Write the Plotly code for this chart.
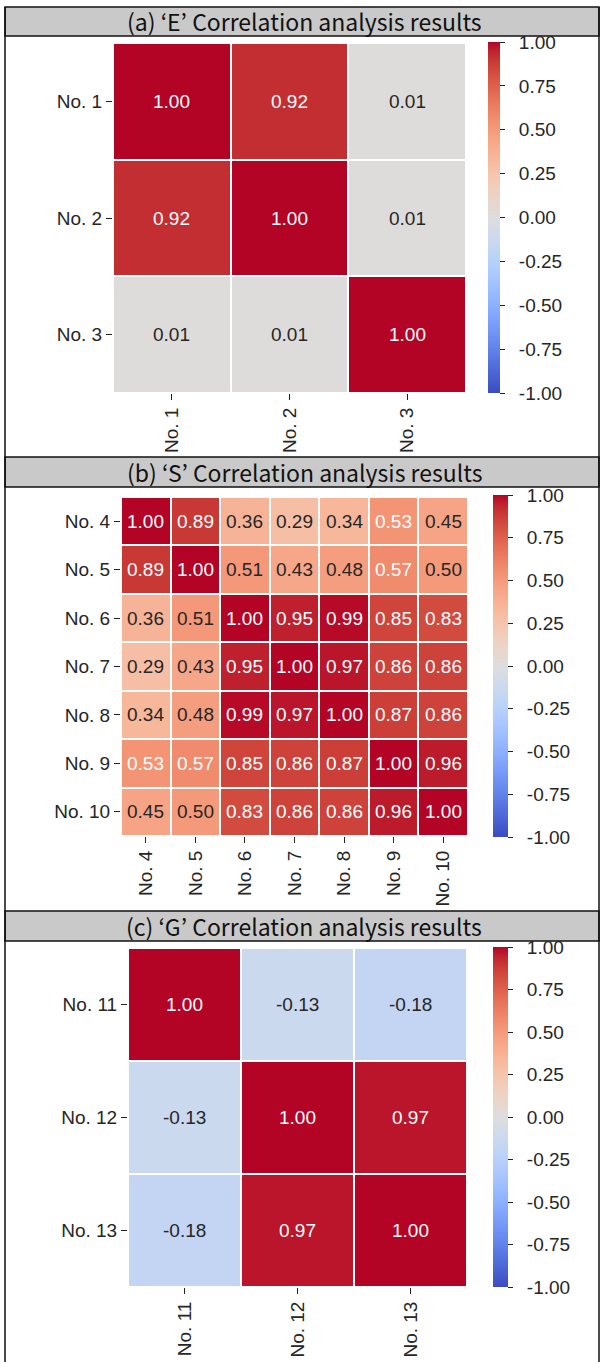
import plotly.graph_objects as go

# ---------------- data ----------------
labels_e = ["No. 1", "No. 2", "No. 3"]
values_e = [
    [1.00, 0.92, 0.01],
    [0.92, 1.00, 0.01],
    [0.01, 0.01, 1.00],
]

labels_s = ["No. 4", "No. 5", "No. 6", "No. 7", "No. 8", "No. 9", "No. 10"]
values_s = [
    [1.00, 0.89, 0.36, 0.29, 0.34, 0.53, 0.45],
    [0.89, 1.00, 0.51, 0.43, 0.48, 0.57, 0.50],
    [0.36, 0.51, 1.00, 0.95, 0.99, 0.85, 0.83],
    [0.29, 0.43, 0.95, 1.00, 0.97, 0.86, 0.86],
    [0.34, 0.48, 0.99, 0.97, 1.00, 0.87, 0.86],
    [0.53, 0.57, 0.85, 0.86, 0.87, 1.00, 0.96],
    [0.45, 0.50, 0.83, 0.86, 0.86, 0.96, 1.00],
]

labels_g = ["No. 11", "No. 12", "No. 13"]
values_g = [
    [1.00, -0.13, -0.18],
    [-0.13, 1.00, 0.97],
    [-0.18, 0.97, 1.00],
]

titles = [
    "(a) \u2018E\u2019 Correlation analysis results",
    "(b) \u2018S\u2019 Correlation analysis results",
    "(c) \u2018G\u2019 Correlation analysis results",
]

cbar_ticks = [-1.0, -0.75, -0.5, -0.25, 0.0, 0.25, 0.5, 0.75, 1.0]
cbar_ticktext = ["-1.00", "-0.75", "-0.50", "-0.25", "0.00", "0.25", "0.50", "0.75", "1.00"]

# ---------------- style ----------------
W, H = 600, 1362
coolwarm_rgb = [
    (59, 76, 192), (68, 90, 204), (77, 104, 215), (87, 117, 225), (98, 130, 234),
    (108, 142, 241), (119, 154, 247), (130, 165, 251), (141, 176, 254), (152, 185, 255),
    (163, 194, 255), (174, 201, 253), (184, 208, 249), (194, 213, 244), (204, 217, 238),
    (213, 219, 230), (221, 221, 221), (229, 216, 209), (236, 211, 197), (241, 204, 185),
    (245, 196, 173), (247, 187, 160), (247, 177, 148), (247, 166, 135), (244, 154, 123),
    (241, 141, 111), (236, 127, 99), (229, 112, 88), (222, 96, 77), (213, 80, 66),
    (203, 62, 56), (192, 40, 47), (180, 4, 38),
]
n = len(coolwarm_rgb) - 1
colorscale = [[i / n, "rgb(%d,%d,%d)" % c] for i, c in enumerate(coolwarm_rgb)]

FONT = "Liberation Sans, Arial, sans-serif"
FS = 19
TXT_DARK = "#262626"
PAD = "\u00a0\u00a0"


def px_x(p):
    return p / W


def px_y(p):
    return 1 - p / H


# panel geometry in pixels: heatmap box (x0, x1, y0, y1), colorbar (x0, thickness, y0, y1)
panels = [
    dict(labels=labels_e, values=values_e, hm=(113, 466, 43, 393), cb=(488, 12, 42, 393)),
    dict(labels=labels_s, values=values_s, hm=(121, 468, 497, 836), cb=(493, 15, 495, 837)),
    dict(labels=labels_g, values=values_g, hm=(128, 467, 948, 1287), cb=(493, 15, 947, 1287)),
]

fig = go.Figure()
annotations = []

for i, p in enumerate(panels):
    k = "" if i == 0 else str(i + 1)
    x0, x1, y0, y1 = p["hm"]
    cx, cth, cy0, cy1 = p["cb"]
    fig.add_trace(go.Heatmap(
        z=p["values"], x=p["labels"], y=p["labels"],
        xaxis="x" + k, yaxis="y" + k,
        zmin=-1, zmax=1, colorscale=colorscale,
        xgap=2, ygap=2, hoverinfo="skip",
        colorbar=dict(
            x=px_x(cx), xanchor="left", xpad=0,
            y=px_y(cy0), yanchor="top", ypad=0,
            len=cy1 - cy0, lenmode="pixels",
            thickness=cth, thicknessmode="pixels",
            outlinewidth=0,
            tickvals=cbar_ticks, ticktext=[PAD + t for t in cbar_ticktext],
            ticks="outside", ticklen=5, tickwidth=1.2, tickcolor="#222",
            tickfont=dict(family=FONT, size=FS, color=TXT_DARK),
        ),
    ))
    fig.update_layout(**{
        "xaxis" + k: dict(
            domain=[px_x(x0), px_x(x1)], anchor="y" + k,
            tickangle=-90, ticks="outside", ticklen=6, tickwidth=1.2, tickcolor="#222",
            tickfont=dict(family=FONT, size=FS, color=TXT_DARK),
            showgrid=False, zeroline=False, showline=False,
        ),
        "yaxis" + k: dict(
            domain=[px_y(y1), px_y(y0)], anchor="x" + k,
            autorange="reversed", ticks="outside", ticklen=6, tickwidth=1.2, tickcolor="#222",
            tickfont=dict(family=FONT, size=FS, color=TXT_DARK),
            showgrid=False, zeroline=False, showline=False,
        ),
    })
    for r, rl in enumerate(p["labels"]):
        for c, cl in enumerate(p["labels"]):
            v = p["values"][r][c]
            col = "white" if (v >= 0.52 or v <= -0.6) else TXT_DARK
            annotations.append(dict(
                x=cl, y=rl, xref="x" + k, yref="y" + k,
                text="%.2f" % v, showarrow=False,
                font=dict(family=FONT, size=FS, color=col),
            ))

# title bars and frame
bars = [(7, 36), (457, 487), (911, 941)]
shapes = []
for (t0, t1), title in zip(bars, titles):
    shapes.append(dict(type="rect", xref="paper", yref="paper",
                       x0=px_x(5), x1=px_x(599), y0=px_y(t1), y1=px_y(t0),
                       fillcolor="#c9c9c9", line=dict(color="#111", width=1.5), layer="below"))
    annotations.append(dict(x=px_x(304), y=px_y((t0 + t1) / 2), xref="paper", yref="paper",
                            text=title, showarrow=False, xanchor="center", yanchor="middle",
                            font=dict(family="Noto Sans CJK KR, Noto Sans, sans-serif", size=23, color="#111")))
shapes.append(dict(type="line", xref="paper", yref="paper", x0=px_x(5), x1=px_x(5),
                   y0=0, y1=px_y(7), line=dict(color="#111", width=1.5)))
shapes.append(dict(type="line", xref="paper", yref="paper", x0=px_x(599), x1=px_x(599),
                   y0=0, y1=px_y(7), line=dict(color="#111", width=1.5)))

fig.update_layout(
    width=W, height=H,
    margin=dict(l=0, r=0, t=0, b=0),
    paper_bgcolor="white", plot_bgcolor="white",
    showlegend=False,
    shapes=shapes, annotations=annotations,
)

fig.write_html(
    "out.html",
    config={"displayModeBar": False},
    post_script="document.body.style.margin='0';document.documentElement.style.overflow='hidden';",
)
